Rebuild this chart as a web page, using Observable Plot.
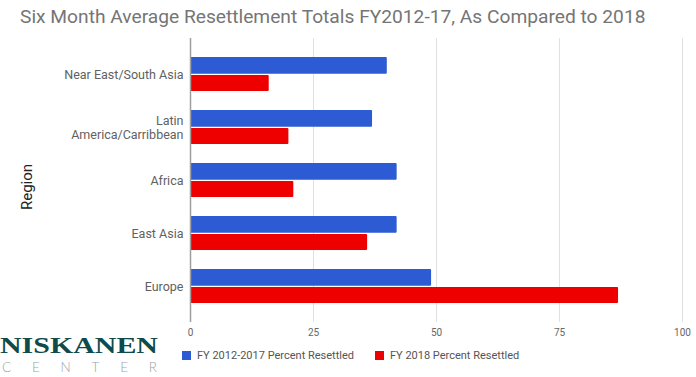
<!DOCTYPE html>
<html><head><meta charset="utf-8">
<script src="https://cdn.jsdelivr.net/npm/d3@7"></script>
<script src="https://cdn.jsdelivr.net/npm/@observablehq/plot@0.6"></script>
<style>
body{margin:0;background:#fff;font-family:Roboto,sans-serif}
#wrap{position:relative;width:696px;height:377px;overflow:hidden;background:#fff}
#title{position:absolute;left:20px;top:6.5px;font-size:19.2px;line-height:19px;color:#757575;white-space:nowrap}
#chart{position:absolute;left:0;top:0}
#ylab{position:absolute;left:27px;top:187px;transform:translate(-50%,-50%) rotate(-90deg);font-size:15px;line-height:15px;color:#222;white-space:nowrap}
.leg{position:absolute;top:349px;font-size:11px;line-height:13px;color:#555;white-space:nowrap;display:flex;align-items:center}
.sw{display:inline-block;width:9px;height:9px;margin-right:6px}
#logo{position:absolute;left:0;top:330px}
</style>
</head><body>
<div id="wrap">
  <div id="chart"></div>
  <div id="title"></div>
  <div id="ylab"></div>
  <div id="leg1" class="leg" style="left:182px"><span class="sw"></span><span class="lt"></span></div>
  <div id="leg2" class="leg" style="left:375px"><span class="sw"></span><span class="lt"></span></div>
  <svg id="logo" width="170" height="47">
    <text x="0" y="23.3" font-family="Liberation Serif, DejaVu Serif, serif" font-weight="bold" font-size="23" fill="#0f4a4d" textLength="158" lengthAdjust="spacingAndGlyphs">NISKANEN</text>
    <text x="2" y="41.5" font-family="Lato, sans-serif" font-weight="300" font-size="13.5" fill="#9aa4a5" textLength="155" lengthAdjust="spacing">CENTER</text>
  </svg>
</div>
<script>
const chartTitle = "Six Month Average Resettlement Totals FY2012-17, As Compared to 2018";
const yTitle = "Region";
const regions = ["Near East/South Asia", "Latin America/Carribbean", "Africa", "East Asia", "Europe"];
const regionTickLabels = ["Near East/South Asia", "Latin\nAmerica/Carribbean", "Africa", "East Asia", "Europe"];
const fy2012to2017 = [40, 37, 42, 42, 49];
const fy2018 = [16, 20, 21, 36, 87];
const seriesNames = ["FY 2012-2017 Percent Resettled", "FY 2018 Percent Resettled"];
const seriesColors = ["#2c5bd4", "#ee0000"];
const xTicks = [0, 25, 50, 75, 100];

const rowsA = regions.map((r, i) => ({region: r, value: fy2012to2017[i]}));
const rowsB = regions.map((r, i) => ({region: r, value: fy2018[i]}));

document.getElementById("title").textContent = chartTitle;
document.getElementById("ylab").textContent = yTitle;
["leg1", "leg2"].forEach((id, i) => {
  const el = document.getElementById(id);
  el.querySelector(".sw").style.background = seriesColors[i];
  el.querySelector(".lt").textContent = seriesNames[i];
});

const chart = Plot.plot({
  width: 696,
  height: 345,
  marginTop: 38,
  marginBottom: 23,
  marginLeft: 190,
  marginRight: 14,
  style: {fontFamily: "Roboto, sans-serif", background: "transparent"},
  x: {domain: [0, 100]},
  y: {domain: regions, paddingInner: 0.358, paddingOuter: 0.353},
  marks: [
    Plot.gridX(xTicks, {stroke: "#e0e0e0", strokeOpacity: 1}),
    Plot.barX(rowsA, {x: "value", y: "region", fill: seriesColors[0], insetBottom: 17.3, rx: 1}),
    Plot.barX(rowsB, {x: "value", y: "region", fill: seriesColors[1], insetTop: 18, rx: 1}),
    Plot.ruleX([0], {stroke: "#9e9e9e", strokeWidth: 1.5}),
    Plot.axisX(xTicks, {tickSize: 0, tickPadding: 6, fontSize: 10, color: "#666", label: null}),
    Plot.axisY({tickSize: 0, tickPadding: 7, fontSize: 12.5, lineHeight: 1.1, color: "#616161", label: null,
      tickFormat: d => regionTickLabels[regions.indexOf(d)]})
  ]
});
document.getElementById("chart").appendChild(chart);
</script>
</body></html>
